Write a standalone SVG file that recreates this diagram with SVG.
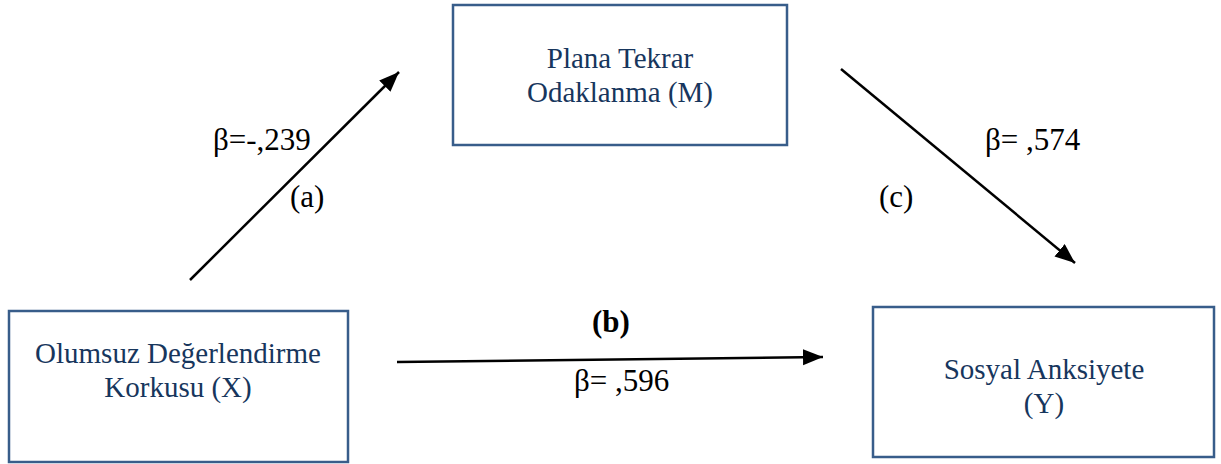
<svg xmlns="http://www.w3.org/2000/svg" width="1221" height="464" viewBox="0 0 1221 464">
<style>
.box{fill:#fff;stroke:#385d8a;stroke-width:2.5}
.nt{font-family:"Liberation Serif","Times New Roman",serif;font-size:29px;fill:#17365d;text-anchor:middle}
.lb{font-family:"Liberation Serif","Times New Roman",serif;font-size:31px;fill:#000}
.ln{stroke:#000;stroke-width:2.5;fill:none}
</style>
<defs>
<marker id="ah" markerUnits="userSpaceOnUse" markerWidth="22" markerHeight="18" refX="20" refY="8" orient="auto">
<path d="M0,0 L20,8 L0,16 z" fill="#000"/>
</marker>
</defs>
<rect width="1221" height="464" fill="#fff"/>
<g id="connectors">
<line class="ln" x1="190" y1="280" x2="399" y2="72" marker-end="url(#ah)"/>
<line class="ln" x1="841" y1="69" x2="1075" y2="263" marker-end="url(#ah)"/>
<line class="ln" x1="397" y1="362" x2="823" y2="357" stroke-width="2.8" marker-end="url(#ah)"/>
<text class="lb" x="213" y="150">β=-,239</text>
<text class="lb" x="290" y="207">(a)</text>
<text class="lb" x="985" y="150">β= ,574</text>
<text class="lb" x="879" y="207">(c)</text>
<text class="lb" x="592" y="332" font-weight="bold">(b)</text>
<text class="lb" x="574" y="391">β= ,596</text>
</g>
<g id="nodeX">
<rect class="box" x="9" y="311" width="339" height="151"/>
<text class="nt" x="178" y="363">Olumsuz Değerlendirme</text>
<text class="nt" x="178" y="397">Korkusu (X)</text>
</g>
<g id="nodeM">
<rect class="box" x="453" y="5" width="334" height="140"/>
<text class="nt" x="620" y="68">Plana Tekrar</text>
<text class="nt" x="620" y="102">Odaklanma (M)</text>
</g>
<g id="nodeY">
<rect class="box" x="873" y="307" width="341" height="150"/>
<text class="nt" x="1044" y="379">Sosyal Anksiyete</text>
<text class="nt" x="1044" y="413">(Y)</text>
</g>
</svg>
